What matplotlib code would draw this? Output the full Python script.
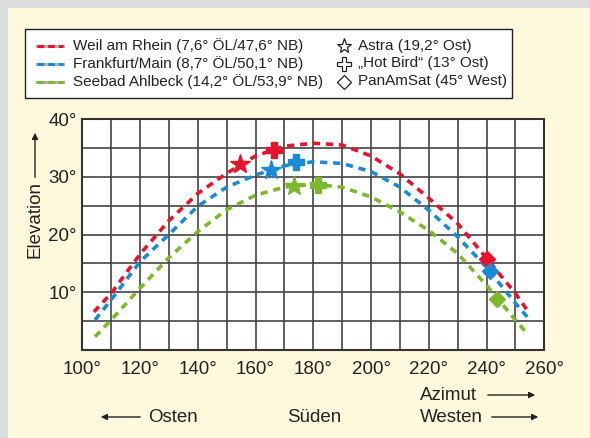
import matplotlib
matplotlib.use("Agg")
import matplotlib.pyplot as plt
from matplotlib.patches import Rectangle, FancyArrowPatch
from matplotlib.lines import Line2D

plt.rcParams['font.family'] = ['Liberation Sans', 'DejaVu Sans']

# ---- data ----
series_names = ["Weil am Rhein (7,6° ÖL/47,6° NB)",
                "Frankfurt/Main (8,7° ÖL/50,1° NB)",
                "Seebad Ahlbeck (14,2° ÖL/53,9° NB)"]
series_colors = ["#e5132b", "#1a8ad4", "#7cb72c"]

red_az = [104, 110, 120, 130, 140, 150, 160, 170, 180, 190, 200, 210, 220, 230, 240, 250, 254.5]
red_el = [6.6, 9.8, 16.6, 22.4, 27.1, 30.6, 33.6, 35.3, 35.8, 35.5, 33.6, 30.5, 26.3, 21.9, 15.9, 9.8, 6.6]
blue_az = [104.4, 110, 120, 130, 140, 150, 160, 170, 180, 190, 200, 210, 220, 230, 240, 250, 255]
blue_el = [5.2, 8.7, 15.3, 20.0, 24.9, 28.2, 30.3, 31.9, 32.6, 32.3, 30.9, 28.2, 24.2, 19.6, 14.3, 8.1, 5.2]
green_az = [104.4, 110, 120, 130, 140, 150, 160, 170, 180, 190, 200, 210, 220, 230, 240, 250, 254.5]
green_el = [2.3, 5.2, 10.7, 16.0, 20.5, 24.3, 26.8, 28.2, 28.7, 28.2, 26.5, 23.9, 20.7, 16.7, 11.2, 5.2, 2.6]

sat_names = ["Astra (19,2° Ost)", "\u201eHot Bird\u201c (13° Ost)", "PanAmSat (45° West)"]
astra_az = [154.6, 165.5, 173.3]
astra_el = [32.2, 31.2, 28.4]
hotbird_az = [166.4, 174.0, 181.7]
hotbird_el = [34.6, 32.5, 28.6]
panamsat_az = [240.0, 241.2, 243.5]
panamsat_el = [15.7, 13.6, 8.8]

x_ticks = [100, 120, 140, 160, 180, 200, 220, 240, 260]
y_ticks = [10, 20, 30, 40]

W, H = 590, 438
fig = plt.figure(figsize=(W / 100, H / 100), dpi=100)
fig.patch.set_facecolor("#dcdddf")

def fx(px):
    return px / W

def fy(py):
    return 1 - py / H

# cream panel
fig.patches.append(Rectangle((fx(8), 0), 1 - fx(8), fy(8), transform=fig.transFigure,
                             facecolor="#fef8dc", edgecolor="none", zorder=-5))

ax = fig.add_axes([fx(82.3), fy(350), fx(544.3) - fx(82.3), fy(119) - fy(350)])
ax.set_zorder(2)
ax.set_facecolor("white")
ax.set_xlim(100, 260)
ax.set_ylim(0, 40)

# grid
for gx in range(110, 260, 10):
    ax.axvline(gx, color="#444444", lw=1.2, zorder=1)
for gy in range(5, 40, 5):
    ax.axhline(gy, color="#444444", lw=1.2, zorder=1)
for s in ax.spines.values():
    s.set_color("#333333")
    s.set_linewidth(1.5)

ax.set_xticks(x_ticks)
ax.set_xticklabels([f"{t}°" for t in x_ticks])
ax.set_yticks(y_ticks)
ax.set_yticklabels([f"{t}°" for t in y_ticks])
ax.tick_params(length=0, labelsize=13.5, colors="#222222")
ax.tick_params(axis="x", pad=8)
ax.tick_params(axis="y", pad=4)

dash = (2.0, 1.6)
lw = 2.6
for az, el, c in [(red_az, red_el, series_colors[0]),
                  (blue_az, blue_el, series_colors[1]),
                  (green_az, green_el, series_colors[2])]:
    ax.plot(az, el, color=c, lw=lw, dashes=dash, zorder=3)

for i, c in enumerate(series_colors):
    ax.plot(astra_az[i], astra_el[i], marker="*", ms=15, color=c, mec=c, zorder=4, clip_on=False)
    ax.plot(hotbird_az[i], hotbird_el[i], marker="P", ms=11, color=c, mec=c, zorder=4, clip_on=False)
    ax.plot(panamsat_az[i], panamsat_el[i], marker="D", ms=8, color=c, mec=c, zorder=4, clip_on=False)

# legend box
fig.patches.append(Rectangle((fx(25), fy(98)), fx(512) - fx(25), fy(29) - fy(98),
                             transform=fig.transFigure, facecolor="white",
                             edgecolor="#222222", lw=1.0, zorder=2))
rows = [46, 63.5, 81.5]
for i, (name, c) in enumerate(zip(series_names, series_colors)):
    y = fy(rows[i])
    fig.add_artist(Line2D([fx(37), fx(63)], [y, y], transform=fig.transFigure,
                          color="#b0b0b0", lw=2.2, zorder=3))
    fig.add_artist(Line2D([fx(37), fx(63)], [y, y], transform=fig.transFigure,
                          color=c, lw=2.2, dashes=(2.2, 1.3), zorder=3))
    fig.text(fx(73), y, name, fontsize=11, va="center", ha="left", color="#222222", zorder=4)
sat_markers = ["*", "P", "D"]
sat_ms = [11, 9.5, 7.5]
for i, (name, m) in enumerate(zip(sat_names, sat_markers)):
    y = fy(rows[i])
    fig.add_artist(Line2D([fx(344)], [y], transform=fig.transFigure, marker=m,
                          ms=sat_ms[i], mfc="none", mec="#222222", mew=0.9, zorder=4))
    fig.text(fx(358), y, name, fontsize=11, va="center", ha="left", color="#222222", zorder=4)

# axis annotations
txtc = "#222222"
fs = 13.5
fig.text(fx(35), fy(220), "Elevation", rotation=90, fontsize=fs, ha="center", va="center", color=txtc)
fig.add_artist(FancyArrowPatch((fx(35), fy(180)), (fx(35), fy(130)), transform=fig.transFigure,
                               arrowstyle="-|>", mutation_scale=9, lw=1.0, color=txtc))

fig.text(fx(420), fy(395), "Azimut", fontsize=fs, ha="left", va="center", color=txtc)
fig.add_artist(FancyArrowPatch((fx(485), fy(395)), (fx(538), fy(395)), transform=fig.transFigure,
                               arrowstyle="-|>", mutation_scale=9, lw=1.0, color=txtc))
fig.text(fx(420), fy(417), "Westen", fontsize=fs, ha="left", va="center", color=txtc)
fig.add_artist(FancyArrowPatch((fx(489), fy(417)), (fx(541), fy(417)), transform=fig.transFigure,
                               arrowstyle="-|>", mutation_scale=9, lw=1.0, color=txtc))
fig.text(fx(314), fy(417), "Süden", fontsize=fs, ha="center", va="center", color=txtc)
fig.text(fx(148), fy(417), "Osten", fontsize=fs, ha="left", va="center", color=txtc)
fig.add_artist(FancyArrowPatch((fx(143), fy(417)), (fx(98), fy(417)), transform=fig.transFigure,
                               arrowstyle="-|>", mutation_scale=9, lw=1.0, color=txtc))

fig.savefig("out.png", dpi=100, facecolor=fig.get_facecolor())
